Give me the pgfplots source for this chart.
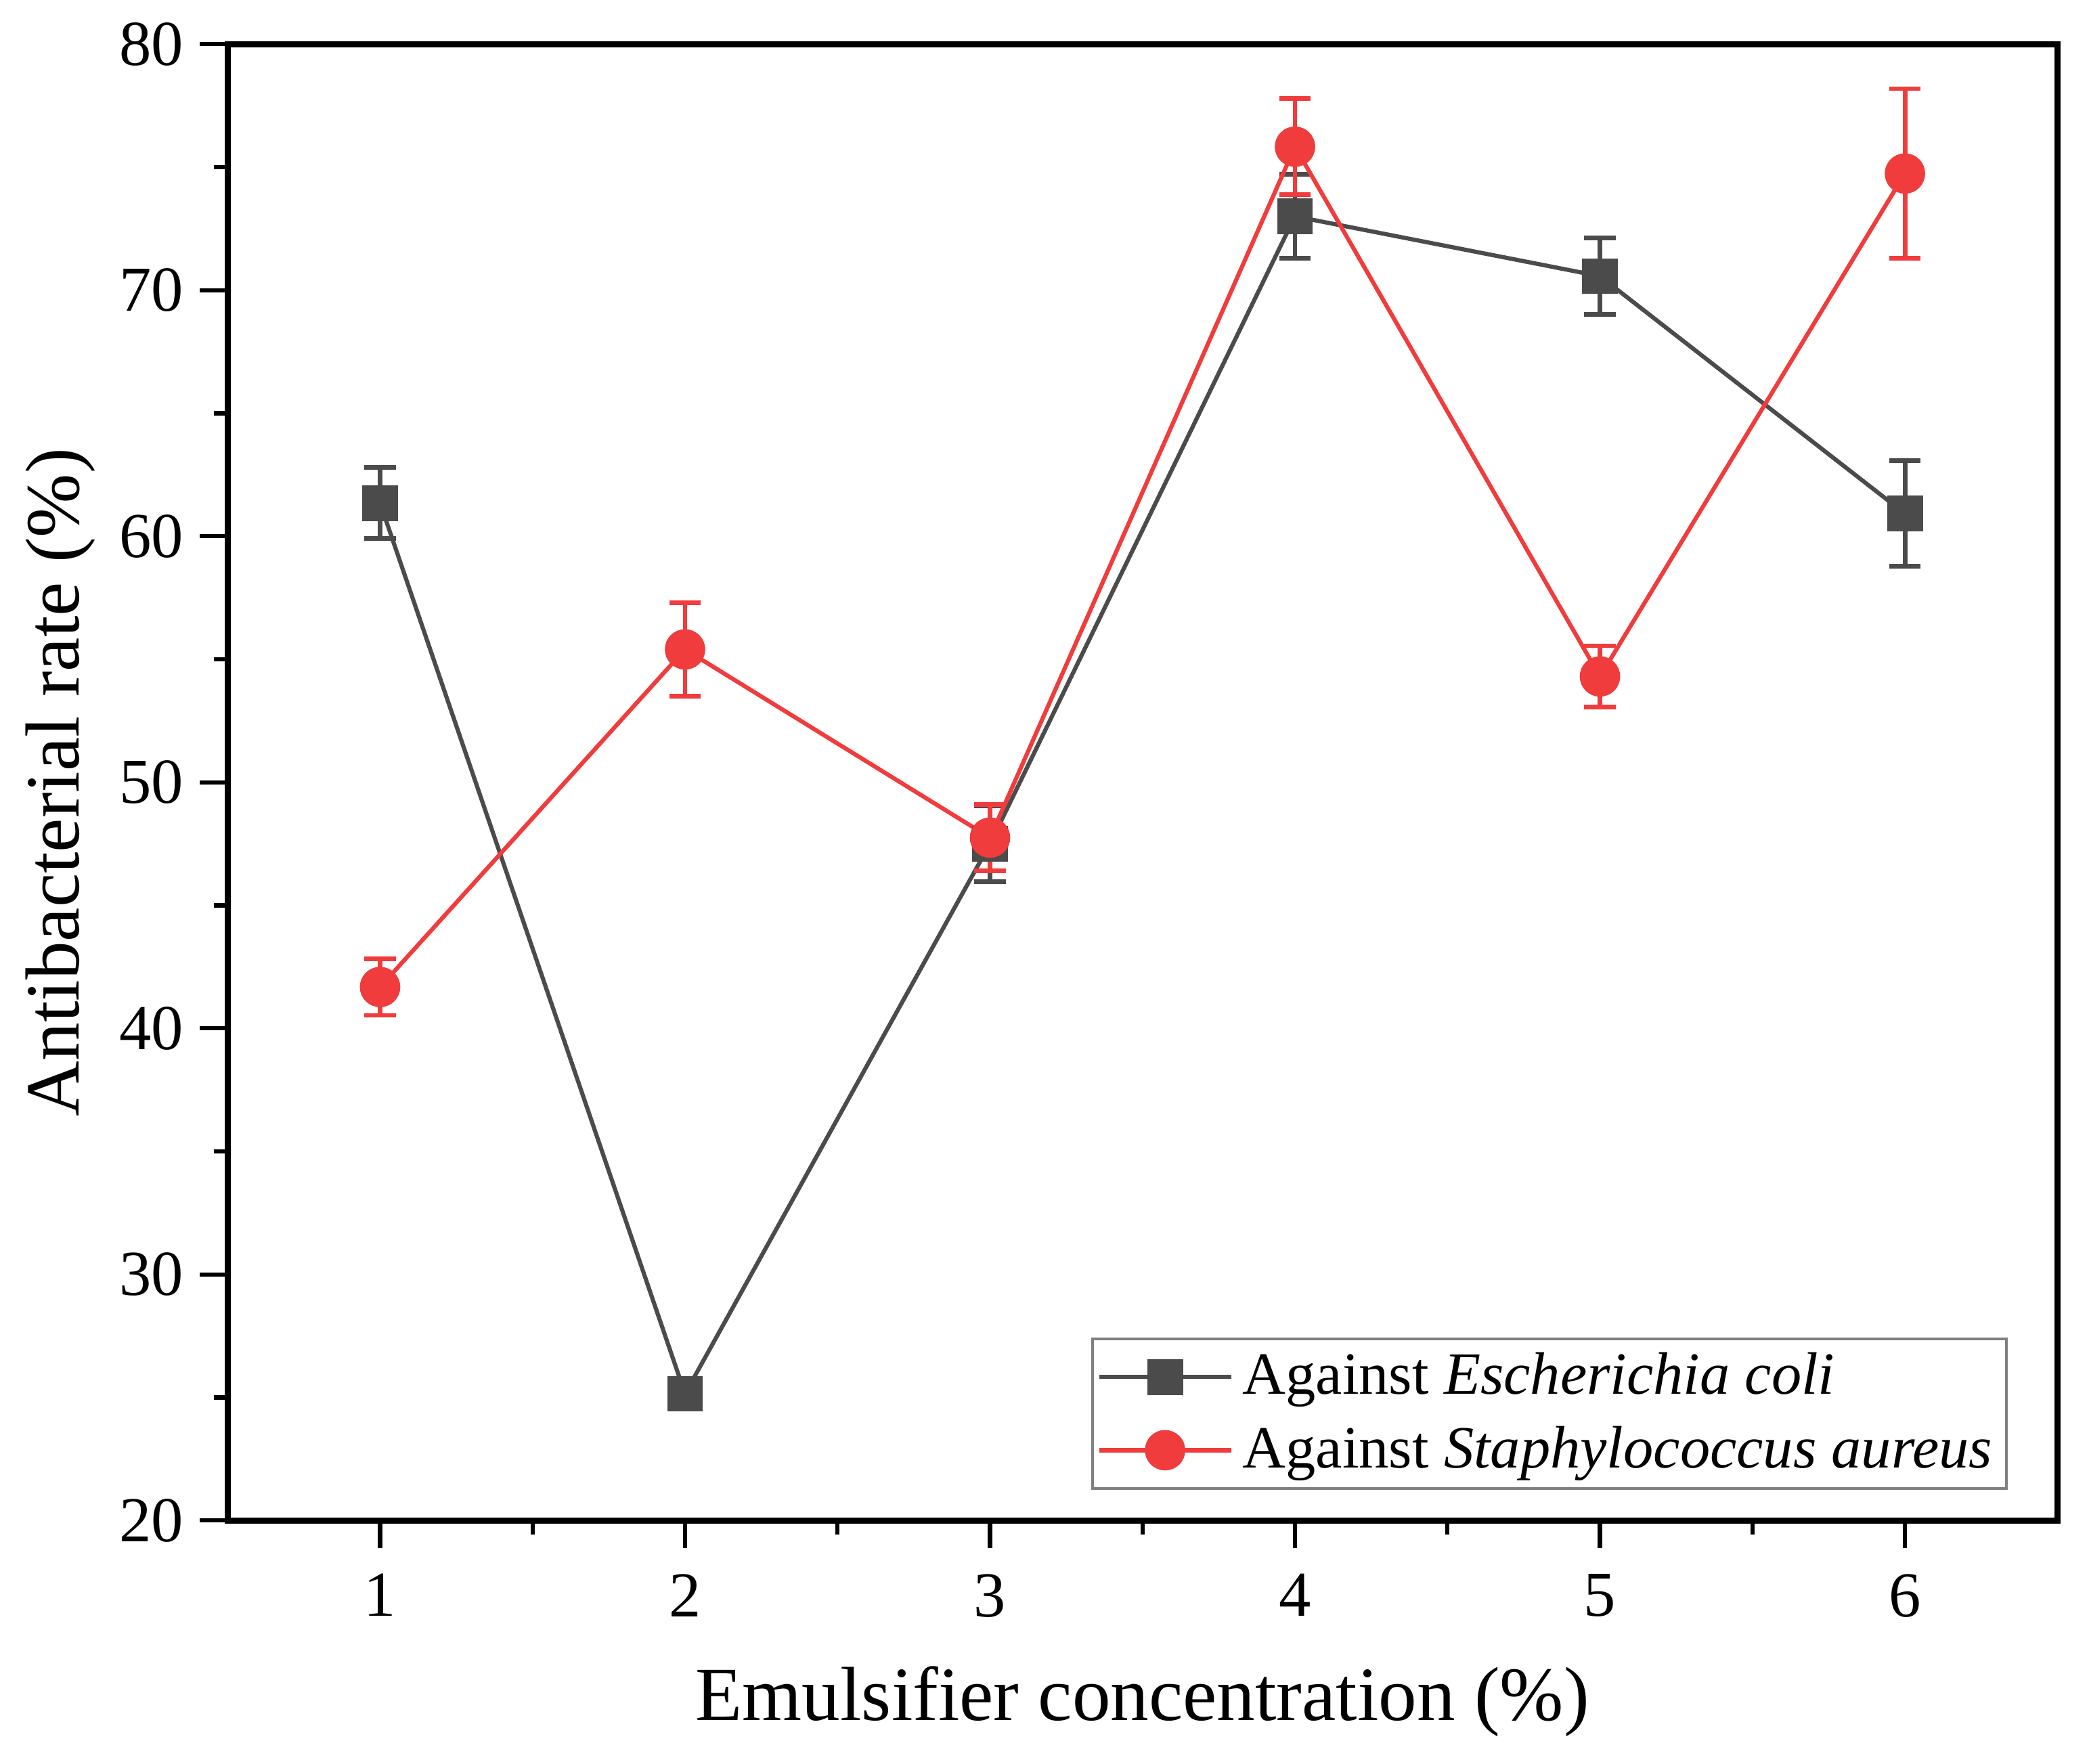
\documentclass[border=0pt]{standalone}
\usepackage{fontspec}
\setmainfont{Liberation Serif}
\usepackage{pgfplots}
\pgfplotsset{compat=1.18}
\definecolor{ecoli}{RGB}{75,75,75}
\definecolor{saur}{RGB}{240,60,60}
\begin{document}
\begin{tikzpicture}
\begin{axis}[
  scale only axis,
  width=394pt, height=317.9pt,
  xmin=0.5, xmax=6.5, ymin=20, ymax=80,
  xtick={1,2,3,4,5,6},
  ytick={20,30,40,50,60,70,80},
  minor x tick num=1, minor y tick num=1,
  tick align=outside,
  xtick pos=bottom, ytick pos=left,
  major tick length=6pt, minor tick length=3pt,
  every tick/.style={black, line width=0.9pt},
  axis line style={line width=1.3pt},
  /pgf/number format/assume math mode=true,
  ticklabel style={font=\fontsize{13.8}{15}\selectfont},
  xticklabel style={yshift=-2pt},
  xlabel={Emulsifier concentration (\%)},
  ylabel={Antibacterial rate (\%)},
  every axis x label/.style={at={(axis description cs:0.5,0)}, yshift=-39pt, anchor=center, font=\fontsize{16.5}{19}\selectfont},
  every axis y label/.style={at={(axis description cs:0,0.5)}, xshift=-36pt, rotate=90, anchor=center, font=\fontsize{16.5}{19}\selectfont},
  legend style={at={(axis description cs:1,0)}, anchor=south east, xshift=-10.7pt, yshift=6.6pt,
    draw=gray, line width=0.6pt, font=\fontsize{12.9}{16}\selectfont, inner sep=1pt,
    row sep=1.3pt, cells={anchor=west}},
  legend image code/.code={
    \draw[mark repeat=2,mark phase=2] plot coordinates {(0cm,0cm) (0.5cm,0cm) (1cm,0cm)};},
]
\addplot[ecoli, line width=0.9pt, mark=square*, mark size=3.4pt,
  error bars/.cd, y dir=both, y explicit,
  error bar style={line width=1pt, ecoli},
  error mark options={ecoli, line width=1pt, mark size=3.4pt, rotate=90}]
  coordinates {
  (1,61.35) +- (0,1.45)
  (2,25.15) +- (0,0.5)
  (3,47.5) +- (0,1.55)
  (4,73.0) +- (0,1.7)
  (5,70.57) +- (0,1.55)
  (6,60.92) +- (0,2.15)
};
\addlegendentry{Against \textit{Escherichia coli}}
\addplot[saur, line width=0.9pt, mark=*, mark size=3.9pt,
  error bars/.cd, y dir=both, y explicit,
  error bar style={line width=1pt, saur},
  error mark options={saur, line width=1pt, mark size=3.4pt, rotate=90}]
  coordinates {
  (1,41.68) +- (0,1.15)
  (2,55.4) +- (0,1.9)
  (3,47.75) +- (0,1.35)
  (4,75.83) +- (0,1.95)
  (5,54.3) +- (0,1.25)
  (6,74.74) +- (0,3.45)
};
\addlegendentry{Against \textit{Staphylococcus aureus}}
\end{axis}
\pgfresetboundingbox
\path (current axis.south west) ++(-49pt,-52.4pt) coordinate (bbA);
\path (current axis.north east) ++(6.8pt,9.5pt) coordinate (bbB);
\useasboundingbox (bbA) rectangle (bbB);
\end{tikzpicture}
\end{document}
